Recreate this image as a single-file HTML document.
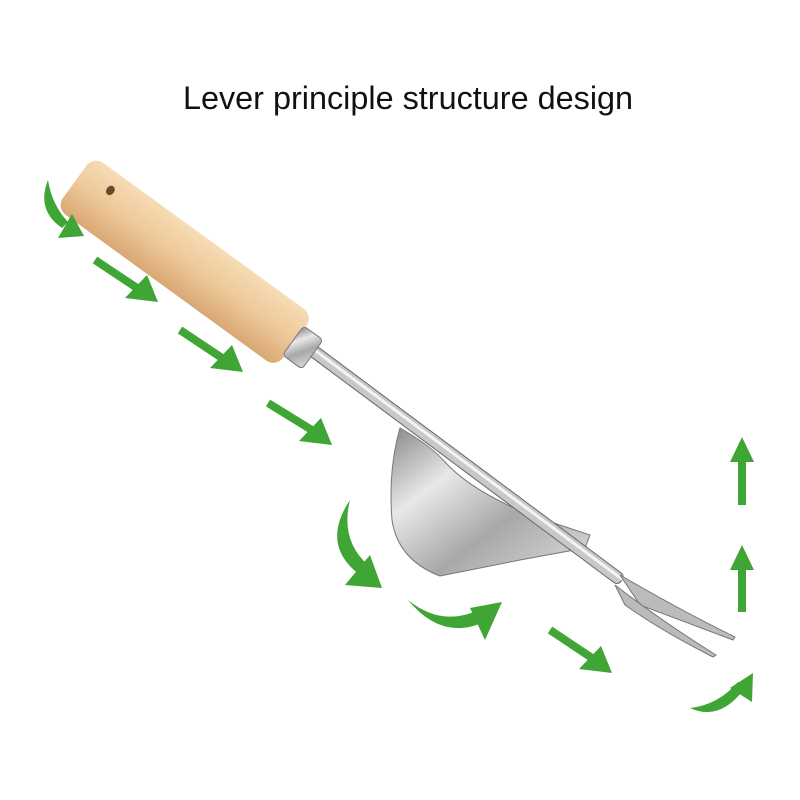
<!DOCTYPE html>
<html><head><style>
html,body{margin:0;padding:0;background:#fff;width:800px;height:800px;overflow:hidden}
.t{position:absolute;top:80px;left:8px;width:800px;text-align:center;font-family:"Liberation Sans",sans-serif;font-size:32.4px;color:#111}
</style></head><body>
<div class="t">Lever principle structure design</div>
<svg width="800" height="800" style="position:absolute;left:0;top:0">
<defs>
<linearGradient id="wood" x1="0" y1="0" x2="0" y2="1">
<stop offset="0" stop-color="#f6dcb4"/><stop offset="0.5" stop-color="#eec89a"/><stop offset="1" stop-color="#d9a873"/>
</linearGradient>
<linearGradient id="met" x1="0" y1="0" x2="1" y2="1">
<stop offset="0" stop-color="#888"/><stop offset="0.3" stop-color="#e8e8e8"/><stop offset="0.6" stop-color="#a8a8a8"/><stop offset="1" stop-color="#ddd"/>
</linearGradient>
</defs>
<path d="M400,428 Q388,470 392,520 Q398,560 440,576 L520,560 L585,548 L590,535 L530,515 Q470,490 445,462 Q430,445 400,428 Z" fill="url(#met)" stroke="#777" stroke-width="1"/>
<g transform="translate(312,350) rotate(36.7)">
<rect x="0" y="-6" width="386" height="12" rx="5" fill="#c8c8c8" stroke="#666" stroke-width="1"/>
<rect x="0" y="-3" width="386" height="3" fill="#f4f4f4"/>
</g>
<path d="M620,575 Q680,610 735,637 L733,640 Q680,620 640,605 Z" fill="#bbb" stroke="#777"/>
<path d="M615,585 Q660,620 716,655 L713,657 Q660,630 625,605 Z" fill="#bbb" stroke="#777"/>
<g transform="translate(86,190) rotate(36)">
<rect x="-14" y="-32" width="272" height="64" rx="12" fill="url(#wood)"/>
<ellipse cx="20" cy="-14" rx="4" ry="5" fill="#6b4a2a"/>
<rect x="256" y="-18" width="24" height="36" rx="4" fill="url(#met)" stroke="#777"/>
</g>
<g fill="#3fa535" stroke="#3fa535">
<g stroke-width="8">
<line x1="95" y1="260" x2="140" y2="290"/><line x1="180" y1="330" x2="225" y2="360"/>
<line x1="268" y1="403" x2="315" y2="432"/><line x1="550" y1="630" x2="595" y2="660"/>
<line x1="742" y1="505" x2="742" y2="455"/><line x1="742" y1="612" x2="742" y2="565"/>
</g>
<g stroke="none">
<polygon points="158,302 125,298 147,275"/>
<polygon points="243,372 210,368 232,345"/>
<polygon points="332,445 299,441 321,418"/>
<polygon points="612,673 579,669 601,646"/>
<polygon points="742,437 730,462 754,462"/>
<polygon points="742,545 730,570 754,570"/>
<path d="M48,180 Q36,210 62,228 L68,222 Q52,205 48,180 Z"/>
<polygon points="84,236 58,238 72,214"/>
<path d="M350,500 Q320,545 360,575 L368,565 Q340,540 350,500 Z"/>
<polygon points="382,588 345,585 370,555"/>
<path d="M408,600 Q445,645 492,618 L486,606 Q445,630 408,600 Z"/>
<polygon points="502,602 485,640 470,608"/>
<path d="M690,708 Q720,722 745,688 L738,682 Q718,705 690,708 Z"/>
<polygon points="753,673 752,702 730,688"/>
</g>
</g>
</svg>
</body></html>
